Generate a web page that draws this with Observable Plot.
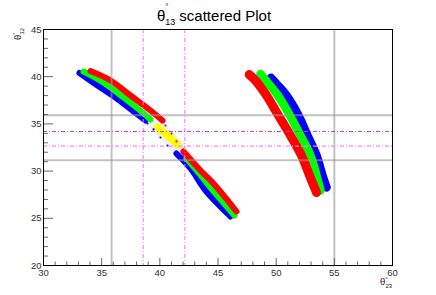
<!DOCTYPE html>
<html><head><meta charset="utf-8">
<script src="https://cdn.jsdelivr.net/npm/d3@7"></script>
<script src="https://cdn.jsdelivr.net/npm/@observablehq/plot@0.6"></script>
<style>
html,body{margin:0;padding:0;background:#fff;}
#chart{width:436px;height:295px;}
svg{display:block;}
</style></head><body><div id="chart"></div>
<script>
// ---- tick values ----
const xMajorTicks = [30, 35, 40, 45, 50, 55, 60];
const xMinorTicks = [31,32,33,34,36,37,38,39,41,42,43,44,46,47,48,49,51,52,53,54,56,57,58,59];
const yMajorTicks = [20, 25, 30, 35, 40, 45];
const yMinorTicks = [21,22,23,24,26,27,28,29,31,32,33,34,36,37,38,39,41,42,43,44];

// ---- reference lines ----
const greyLinesX = [35.85, 55.0];
const greyLinesY = [35.92, 31.15];
const magentaLinesX = [38.57, 42.15];
const magentaDarkY = [34.2];
const magentaLightY = [32.64];

// ---- scatter bands (centre lines, theta23 vs theta12) ----
const leftRedUpper   = [[34.04,40.60],[35.76,39.60],[37.48,38.01],[39.20,36.42],[40.23,35.36]];
const leftRedLower   = [[42.03,32.08],[43.50,30.06],[44.61,28.69],[46.59,25.72]];
const leftGreenUpper = [[33.44,40.55],[35.16,39.39],[36.88,37.80],[38.51,36.21],[39.20,35.47]];
const leftGreenLower = [[42.29,31.33],[43.32,29.85],[44.36,28.26],[46.42,25.30]];
const leftBlueUpper  = [[33.09,40.39],[34.64,39.07],[36.36,37.64],[38.08,36.00],[38.77,35.36]];
const leftBlueLower  = [[41.43,31.86],[42.64,30.28],[43.93,27.94],[46.08,25.19]];
const leftYellow     = [[39.80,34.62],[40.75,33.67],[41.52,32.82]];
const leftHalo       = [[39.03,36.10],[40.8,33.5],[42.64,30.91]];
const redSparse      = [[40.49,34.83],[41.00,33.98],[41.43,33.14]];
const blueSparse     = [[38.94,35.04],[39.46,34.41],[40.06,33.56],[40.66,32.71]];

const rightRed   = [[47.68,40.23],[48.22,39.60],[49.17,38.01],[50.20,35.89],[51.23,33.77],[52.18,31.65],[52.87,29.53],[53.47,27.73]];
const rightGreen = [[48.65,40.28],[49.45,39.10],[50.15,38.01],[51.18,35.89],[52.09,33.77],[52.95,31.65],[53.47,29.53],[53.81,27.94]];
const rightBlue  = [[49.55,39.88],[50.15,39.07],[50.89,38.01],[51.92,35.89],[52.69,33.77],[53.47,31.65],[53.98,29.53],[54.33,28.26]];

const bandStyles = [
  {pts: leftHalo, color: "#efefef", w: 14},
  {pts: leftBlueUpper, color: "#0000ff", w: 6},
  {pts: leftBlueLower, color: "#0000ff", w: 6},
  {pts: leftGreenUpper, color: "#00ff00", w: 6},
  {pts: leftGreenLower, color: "#00ff00", w: 6},
  {pts: leftRedUpper, color: "#ff0000", w: 6},
  {pts: leftRedLower, color: "#ff0000", w: 6},
  {pts: leftYellow, color: "#ffff00", w: 7.5},
  {pts: rightBlue, color: "#0000ff", w: 8.5},
  {pts: rightGreen, color: "#00ff00", w: 8.5},
  {pts: rightRed, color: "#ff0000", w: 9}
];

const font = "Liberation Sans, Arial, Helvetica, sans-serif";

const plot = Plot.plot({
  width: 436, height: 295,
  marginLeft: 43, marginRight: 44, marginTop: 29, marginBottom: 30,
  style: {fontFamily: font, fontSize: "9.5px", color: "#333", background: "#fff"},
  x: {domain: [30, 60], label: null},
  y: {domain: [20, 45], label: null},
  marks: [
    ...bandStyles.map(b => Plot.line(b.pts, {x: d => d[0], y: d => d[1], stroke: b.color, strokeWidth: b.w, curve: "catmull-rom"})),
    Plot.dot(redSparse, {x: d => d[0], y: d => d[1], r: 1.1, fill: "#ff0000"}),
    Plot.dot(blueSparse, {x: d => d[0], y: d => d[1], r: 1.1, fill: "#0000ff"}),
    Plot.ruleX(greyLinesX, {stroke: "#999", strokeOpacity: 0.6, strokeWidth: 2}),
    Plot.ruleY(greyLinesY, {stroke: "#999", strokeOpacity: 0.6, strokeWidth: 2}),
    Plot.ruleX(magentaLinesX, {stroke: "#ff70ff", strokeWidth: 1, strokeDasharray: "4,2,1,2"}),
    Plot.ruleY(magentaDarkY, {stroke: "#c040c8", strokeWidth: 1, strokeDasharray: "4,2,1,2"}),
    Plot.ruleY(magentaLightY, {stroke: "#ff80ff", strokeWidth: 1.2, strokeDasharray: "4,2,1,2"}),
    Plot.axisX(xMinorTicks, {tickSize: -3.5, tickFormat: () => "", label: null, stroke: "#666"}),
    Plot.axisX(xMajorTicks, {tickSize: -7, tickFormat: () => "", label: null, stroke: "#666"}),
    Plot.axisX(xMajorTicks, {tickSize: 0, tickPadding: 4, label: null}),
    Plot.axisY(yMinorTicks, {tickSize: -5, tickFormat: () => "", label: null, stroke: "#666"}),
    Plot.axisY(yMajorTicks, {tickSize: -10, tickFormat: () => "", label: null, stroke: "#666"}),
    Plot.axisY(yMajorTicks, {tickSize: 0, tickPadding: 2, label: null}),
    Plot.frame({stroke: "#000", strokeWidth: 1})
  ]
});
document.getElementById("chart").appendChild(plot);

const svg = d3.select(plot);
// title
const t = svg.append("text").attr("x", 157).attr("y", 21).attr("text-anchor", "start")
  .attr("font-family", font).attr("font-size", 15).attr("fill", "#000");
t.append("tspan").text("θ");
t.append("tspan").attr("font-size", 8).attr("dy", -12).text("°");
t.append("tspan").attr("font-size", 9).attr("dx", -3.2).attr("dy", 16).text("13");
t.append("tspan").attr("dx", 4).attr("dy", -4).text("scattered Plot");

// x axis title
const xt = svg.append("text").attr("x", 380).attr("y", 285).attr("text-anchor", "start")
  .attr("font-family", font).attr("font-size", 9.5).attr("fill", "#222");
xt.append("tspan").text("θ");
xt.append("tspan").attr("font-size", 6).attr("dy", -4.5).text("°");
xt.append("tspan").attr("font-size", 6).attr("dx", -2.2).attr("dy", 7.5).text("23");

// y axis title
const yt = svg.append("text").attr("transform", "translate(21,40) rotate(-90)").attr("text-anchor", "start")
  .attr("font-family", font).attr("font-size", 9.5).attr("fill", "#222");
yt.append("tspan").text("θ");
yt.append("tspan").attr("font-size", 6).attr("dy", -4.5).text("°");
yt.append("tspan").attr("font-size", 6).attr("dx", -2.2).attr("dy", 7.5).text("12");
</script>
</body></html>
